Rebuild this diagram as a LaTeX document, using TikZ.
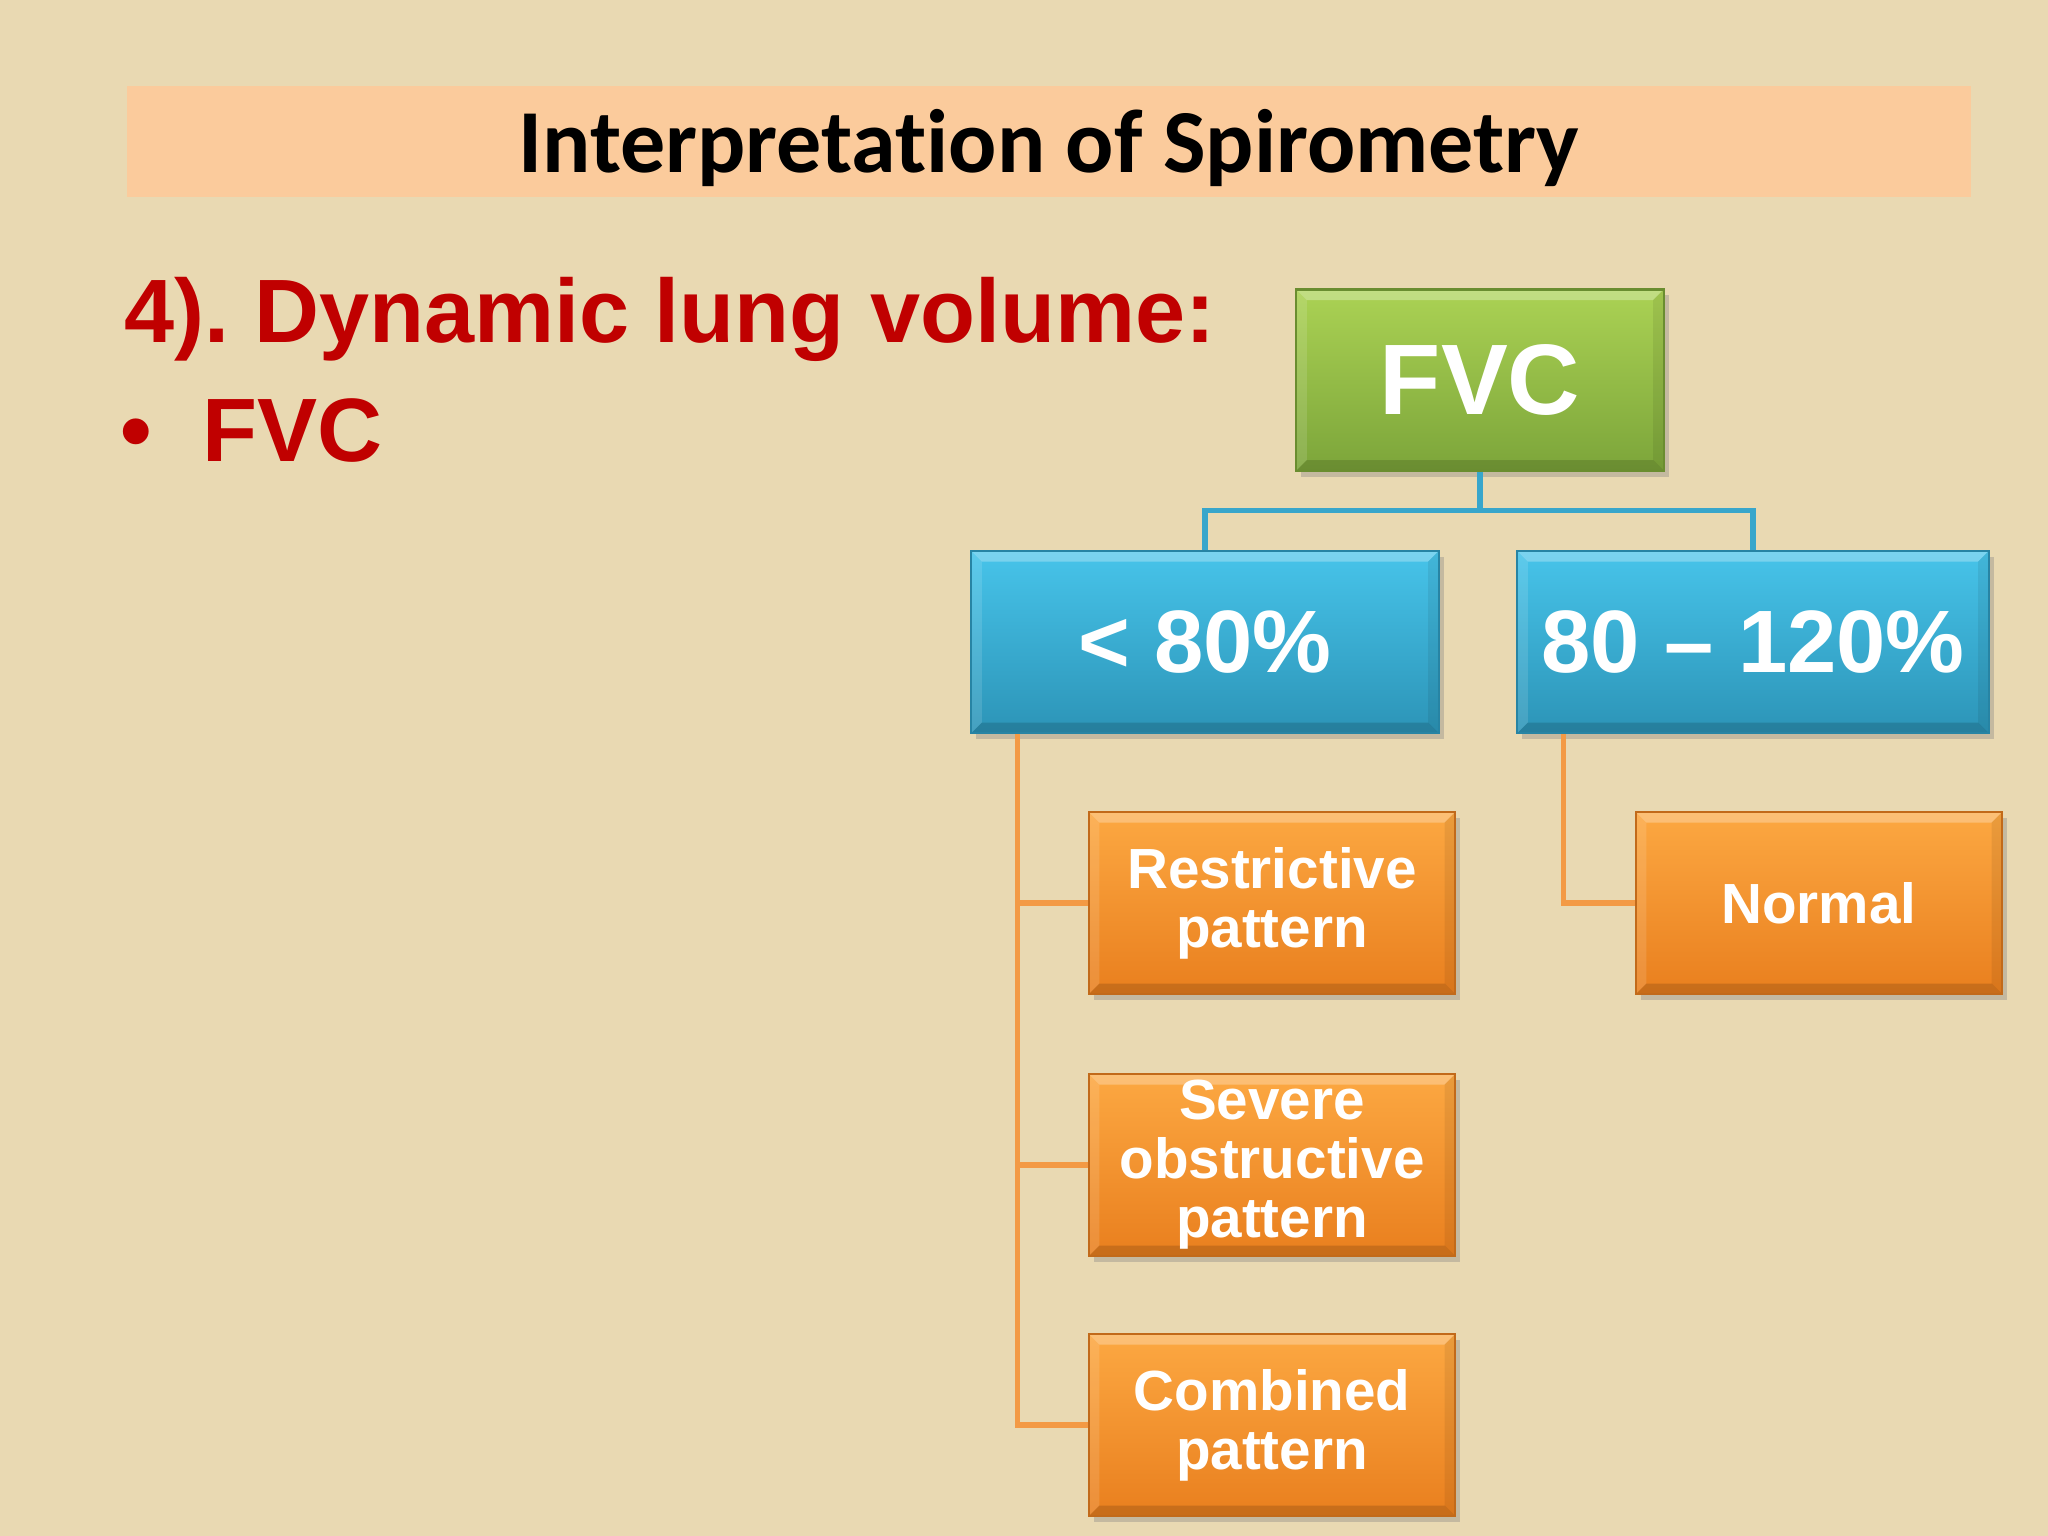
\documentclass[tikz,border=0pt]{standalone}
\usepackage{fontspec}
\setmainfont{Liberation Sans}
\newfontfamily\calibri[Ligatures=NoCommon]{Carlito}
\usepackage{tikz}
\usetikzlibrary{positioning,calc,shadows}
\usepackage{xcolor}
\definecolor{paper}{HTML}{E9D9B2}
\definecolor{peach}{HTML}{FBCB9C}
\definecolor{headRed}{HTML}{C00000}
\definecolor{greenTop}{HTML}{ABD254}
\definecolor{greenBot}{HTML}{7CA53A}
\definecolor{greenEdge}{HTML}{6A8D30}
\definecolor{blueTop}{HTML}{47C4EA}
\definecolor{blueBot}{HTML}{2C94B7}
\definecolor{blueEdge}{HTML}{2784A4}
\definecolor{orangeTop}{HTML}{FCA842}
\definecolor{orangeBot}{HTML}{E97F1E}
\definecolor{orangeEdge}{HTML}{C26A1A}
\definecolor{blueLine}{HTML}{38A6CB}
\definecolor{orangeLine}{HTML}{F39A45}
\tikzset{
  base/.style={font=\bfseries, text=white},
  titlebar/.style={fill=peach, draw=none, inner sep=0pt, text height=0.61cm, text depth=0cm, font=\calibri\bfseries\fontsize{25.6}{30}\selectfont, text=black},
  heading/.style={font=\bfseries\fontsize{25.6}{30}\selectfont, text=headRed, inner sep=0pt},
  bevel/.style={path picture={
    \fill[white,opacity=0.28] (path picture bounding box.north west) -- (path picture bounding box.north east)
      -- ([xshift=-3pt,yshift=-3pt]path picture bounding box.north east) -- ([xshift=3pt,yshift=-3pt]path picture bounding box.north west) -- cycle;
    \fill[black,opacity=0.14] (path picture bounding box.south west) -- (path picture bounding box.south east)
      -- ([xshift=-3pt,yshift=3pt]path picture bounding box.south east) -- ([xshift=3pt,yshift=3pt]path picture bounding box.south west) -- cycle;
    \fill[black,opacity=0.07] (path picture bounding box.north east) -- (path picture bounding box.south east)
      -- ([xshift=-3pt,yshift=3pt]path picture bounding box.south east) -- ([xshift=-3pt,yshift=-3pt]path picture bounding box.north east) -- cycle;
    \fill[white,opacity=0.12] (path picture bounding box.north west) -- (path picture bounding box.south west)
      -- ([xshift=3pt,yshift=3pt]path picture bounding box.south west) -- ([xshift=3pt,yshift=-3pt]path picture bounding box.north west) -- cycle;
  }},
  box/.style={base, rectangle, align=center, inner xsep=4pt, inner ysep=1pt, line width=0.6pt, bevel,
    drop shadow={shadow xshift=0.05cm, shadow yshift=-0.06cm, opacity=0.35}},
  rootbox/.style={box, top color=greenTop, bottom color=greenBot, draw=greenEdge, font=\bfseries\fontsize{28.5}{32}\selectfont, minimum width=3.67cm, minimum height=1.81cm},
  rangebox/.style={box, top color=blueTop, bottom color=blueBot, draw=blueEdge, font=\bfseries\fontsize{25.2}{29}\selectfont, minimum height=1.82cm},
  resultbox/.style={box, top color=orangeTop, bottom color=orangeBot, draw=orangeEdge, font=\bfseries\fontsize{16.1}{16.8}\selectfont, minimum width=3.66cm, minimum height=1.82cm},
  bluelink/.style={draw=blueLine, line width=1.5pt},
  orangelink/.style={draw=orangeLine, line width=1.5pt},
}

\begin{document}
\begin{tikzpicture}[x=0.01cm,y=-0.01cm]
  \fill[paper] (0,0) rectangle (2048,1536);
  \useasboundingbox (0,0) rectangle (2048,1536);

  \node[titlebar,minimum width=18.42cm,minimum height=1.11cm] (title) at (1049,141.5) {Interpretation of Spirometry};
  \node[heading,anchor=base west] (dynamic) at (124,342) {4).\ Dynamic lung volume:};
  \node[heading,anchor=base west] (bullet) at (120,461) {•\hspace{0.5cm}FVC};

  \node[rootbox] (fvc) at (1480,380) {FVC};
  \node[rangebox,minimum width=4.67cm] (low) at (1205,642) {< 80\%};
  \node[rangebox,minimum width=4.71cm] (mid) at (1753,642) {80 – 120\%};
  \node[resultbox] (restr) at (1272,903) {Restrictive\\pattern};
  \node[resultbox] (severe) at (1272,1165) {Severe\\obstructive\\pattern};
  \node[resultbox] (comb) at (1272,1425) {Combined\\pattern};
  \node[resultbox] (normal) at (1819,903) {Normal};

  \coordinate (fork) at ($(fvc.south)+(0,39)$);
  \coordinate (lowstem) at ([xshift=0.47cm]low.south west);
  \coordinate (midstem) at ([xshift=0.47cm]mid.south west);

  \draw[bluelink] (fvc.south) -- (fork) -| (low.north);
  \draw[bluelink] (fork) -| (mid.north);
  \draw[orangelink] (lowstem) |- (restr.west);
  \draw[orangelink] (lowstem) |- (severe.west);
  \draw[orangelink] (lowstem) |- (comb.west);
  \draw[orangelink] (midstem) |- (normal.west);
\end{tikzpicture}
\end{document}
